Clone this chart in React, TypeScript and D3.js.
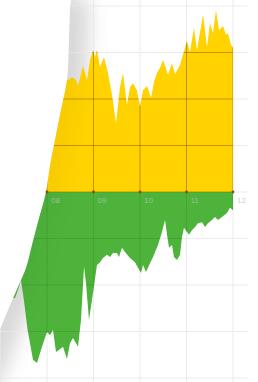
import React, { useEffect, useRef } from "react";
import * as d3 from "d3";

const W = 258;
const H = 382;

// x axis ticks (months)
const tickValues = [8, 9, 10, 11, 12];
const tickLabels = ["08", "09", "10", "11", "12"];
const gridValues = [40, 30, 20, 10, 0, -10, -20, -30, -40];

// yellow series (above zero)
const upX = [7.42, 7.85, 8.065, 8.28, 8.409, 8.452, 8.538, 8.624, 8.667, 8.774, 8.86, 8.925, 8.989, 9.032, 9.075, 9.14, 9.226, 9.312, 9.398, 9.484, 9.57, 9.634, 9.72, 9.785, 9.849, 9.935, 10.0, 10.065, 10.151, 10.237, 10.301, 10.366, 10.43, 10.495, 10.602, 10.688, 10.753, 10.86, 10.903, 11.011, 11.075, 11.161, 11.226, 11.355, 11.441, 11.505, 11.57, 11.634, 11.699, 11.785, 11.849, 11.892, 11.957, 12.0];
const upV = [22.0, 23.0, 21.5, 23.0, 24.1, 24.1, 24.7, 24.1, 22.8, 27.1, 24.1, 28.4, 30.5, 29.0, 30.5, 26.9, 29.0, 25.6, 20.9, 14.8, 22.6, 25.6, 18.7, 22.6, 23.4, 21.9, 18.3, 21.9, 22.8, 20.2, 23.7, 25.6, 26.7, 28.4, 25.2, 27.7, 25.4, 27.3, 28.8, 32.5, 30.1, 35.3, 30.5, 38.1, 31.2, 36.3, 34.2, 39.1, 34.8, 35.7, 33.8, 34.2, 31.6, 31.0];

// green series (below zero)
const downX = [7.0, 7.312, 7.376, 7.44, 7.5, 7.58, 7.699, 7.785, 7.892, 8.0, 8.065, 8.129, 8.194, 8.258, 8.344, 8.43, 8.495, 8.559, 8.667, 8.731, 8.796, 8.839, 8.903, 8.989, 9.075, 9.14, 9.204, 9.29, 9.355, 9.419, 9.505, 9.548, 9.613, 9.677, 9.785, 9.892, 9.957, 10.022, 10.065, 10.129, 10.215, 10.28, 10.387, 10.473, 10.538, 10.581, 10.624, 10.688, 10.731, 10.796, 10.86, 10.903, 10.946, 11.011, 11.054, 11.118, 11.183, 11.247, 11.333, 11.398, 11.462, 11.548, 11.613, 11.677, 11.763, 11.871, 11.935, 12.0];
const downV = [-23.0, -22.8, -21.1, -19.0, -23.0, -29.5, -36.1, -36.8, -33.3, -30.1, -30.8, -29.7, -34.4, -34.0, -33.3, -35.9, -32.5, -31.4, -33.3, -27.5, -16.1, -19.6, -27.5, -21.7, -15.7, -15.1, -14.2, -13.5, -14.0, -13.1, -13.1, -14.0, -12.0, -12.9, -14.2, -15.1, -16.3, -17.4, -15.7, -17.2, -15.3, -14.0, -11.4, -8.6, -6.0, -9.2, -12.0, -11.4, -14.0, -14.6, -13.5, -9.7, -7.7, -8.6, -9.2, -8.2, -7.5, -6.7, -6.5, -7.5, -6.7, -6.0, -5.4, -6.0, -5.4, -4.5, -3.4, -3.9];

// bent left edge of the plot panel
const edge: [number, number][] = [
  [73, -5], [71, 0], [69, 40], [67, 80], [61, 110], [55, 140], [50, 166],
  [46, 192], [38, 222], [32, 245], [26, 268], [18, 287], [8, 310], [0, 330],
  [-22, 385],
];

export default function App() {
  const ref = useRef<SVGSVGElement>(null);

  useEffect(() => {
    const svg = d3.select(ref.current);
    svg.selectAll("*").remove();

    const x = d3.scaleLinear().domain([8, 12]).range([47, 233]);
    const y = d3.scaleLinear().domain([0, 40]).range([192, 6]);

    const up = upX.map((t, i) => [t, upV[i]] as [number, number]);
    const down = downX.map((t, i) => [t, downV[i]] as [number, number]);

    const defs = svg.append("defs");
    const edgeLine = d3.line().curve(d3.curveCatmullRom);
    const panel = edgeLine(edge) + `L${W + 5},${H + 5}L${W + 5},-5Z`;

    defs.append("clipPath").attr("id", "panel").append("path").attr("d", panel);

    const blur = defs.append("filter").attr("id", "soft")
      .attr("x", -0.5).attr("y", -0.5).attr("width", 2).attr("height", 2);
    blur.append("feGaussianBlur").attr("stdDeviation", 10);

    const area = d3.area<[number, number]>()
      .x((d) => x(d[0]))
      .y0(y(0))
      .y1((d) => y(d[1]));

    defs.append("clipPath").attr("id", "upClip").append("path").attr("d", area(up));
    defs.append("clipPath").attr("id", "downClip").append("path").attr("d", area(down));

    const g = svg.append("g").attr("clip-path", "url(#panel)");

    // panel background with shading along the bent edge
    g.append("rect").attr("width", W).attr("height", H).attr("fill", "#fff");
    g.append("path")
      .attr("d", edgeLine(edge))
      .attr("fill", "none")
      .attr("stroke", "#dedede")
      .attr("stroke-width", 40)
      .attr("filter", "url(#soft)");

    const grid = (sel, color) => {
      sel.selectAll(".v").data([7, ...tickValues]).join("line")
        .attr("x1", (d) => x(d)).attr("x2", (d) => x(d))
        .attr("y1", 0).attr("y2", H)
        .attr("stroke", color).attr("stroke-width", 1);
      sel.selectAll(".h").data(gridValues).join("line")
        .attr("x1", 0).attr("x2", 248)
        .attr("y1", (d) => y(d)).attr("y2", (d) => y(d))
        .attr("stroke", color).attr("stroke-width", 1);
    };

    grid(g.append("g"), "#ebebeb");

    g.append("path").attr("d", area(up)).attr("fill", "#ffd200");
    g.append("path").attr("d", area(down)).attr("fill", "#4db33a");

    grid(g.append("g").attr("clip-path", "url(#upClip)"), "rgba(120,70,0,0.45)");
    grid(g.append("g").attr("clip-path", "url(#downClip)"), "rgba(0,60,0,0.12)");

    // slight tint near the edge over the areas
    g.append("path")
      .attr("d", edgeLine(edge))
      .attr("fill", "none")
      .attr("stroke", "#000")
      .attr("stroke-opacity", 0.035)
      .attr("stroke-width", 26)
      .attr("filter", "url(#soft)");

    // baseline tick dots
    svg.append("g").selectAll("circle").data(tickValues).join("circle")
      .attr("cx", (d) => x(d))
      .attr("cy", y(0))
      .attr("r", 1.4)
      .attr("fill", "#8a4a12");

    svg.append("g").selectAll("text").data(tickValues).join("text")
      .attr("x", (d) => x(d) + 4)
      .attr("y", y(0) + 11)
      .attr("font-family", "'Liberation Sans', Arial, sans-serif")
      .attr("font-size", 8)
      .attr("fill", "#c0c0c0")
      .attr("fill-opacity", 0.75)
      .text((d, i) => tickLabels[i]);
  }, []);

  return (
    <svg
      ref={ref}
      width={W}
      height={H}
      style={{ position: "absolute", left: 0, top: 0, display: "block" }}
    />
  );
}
